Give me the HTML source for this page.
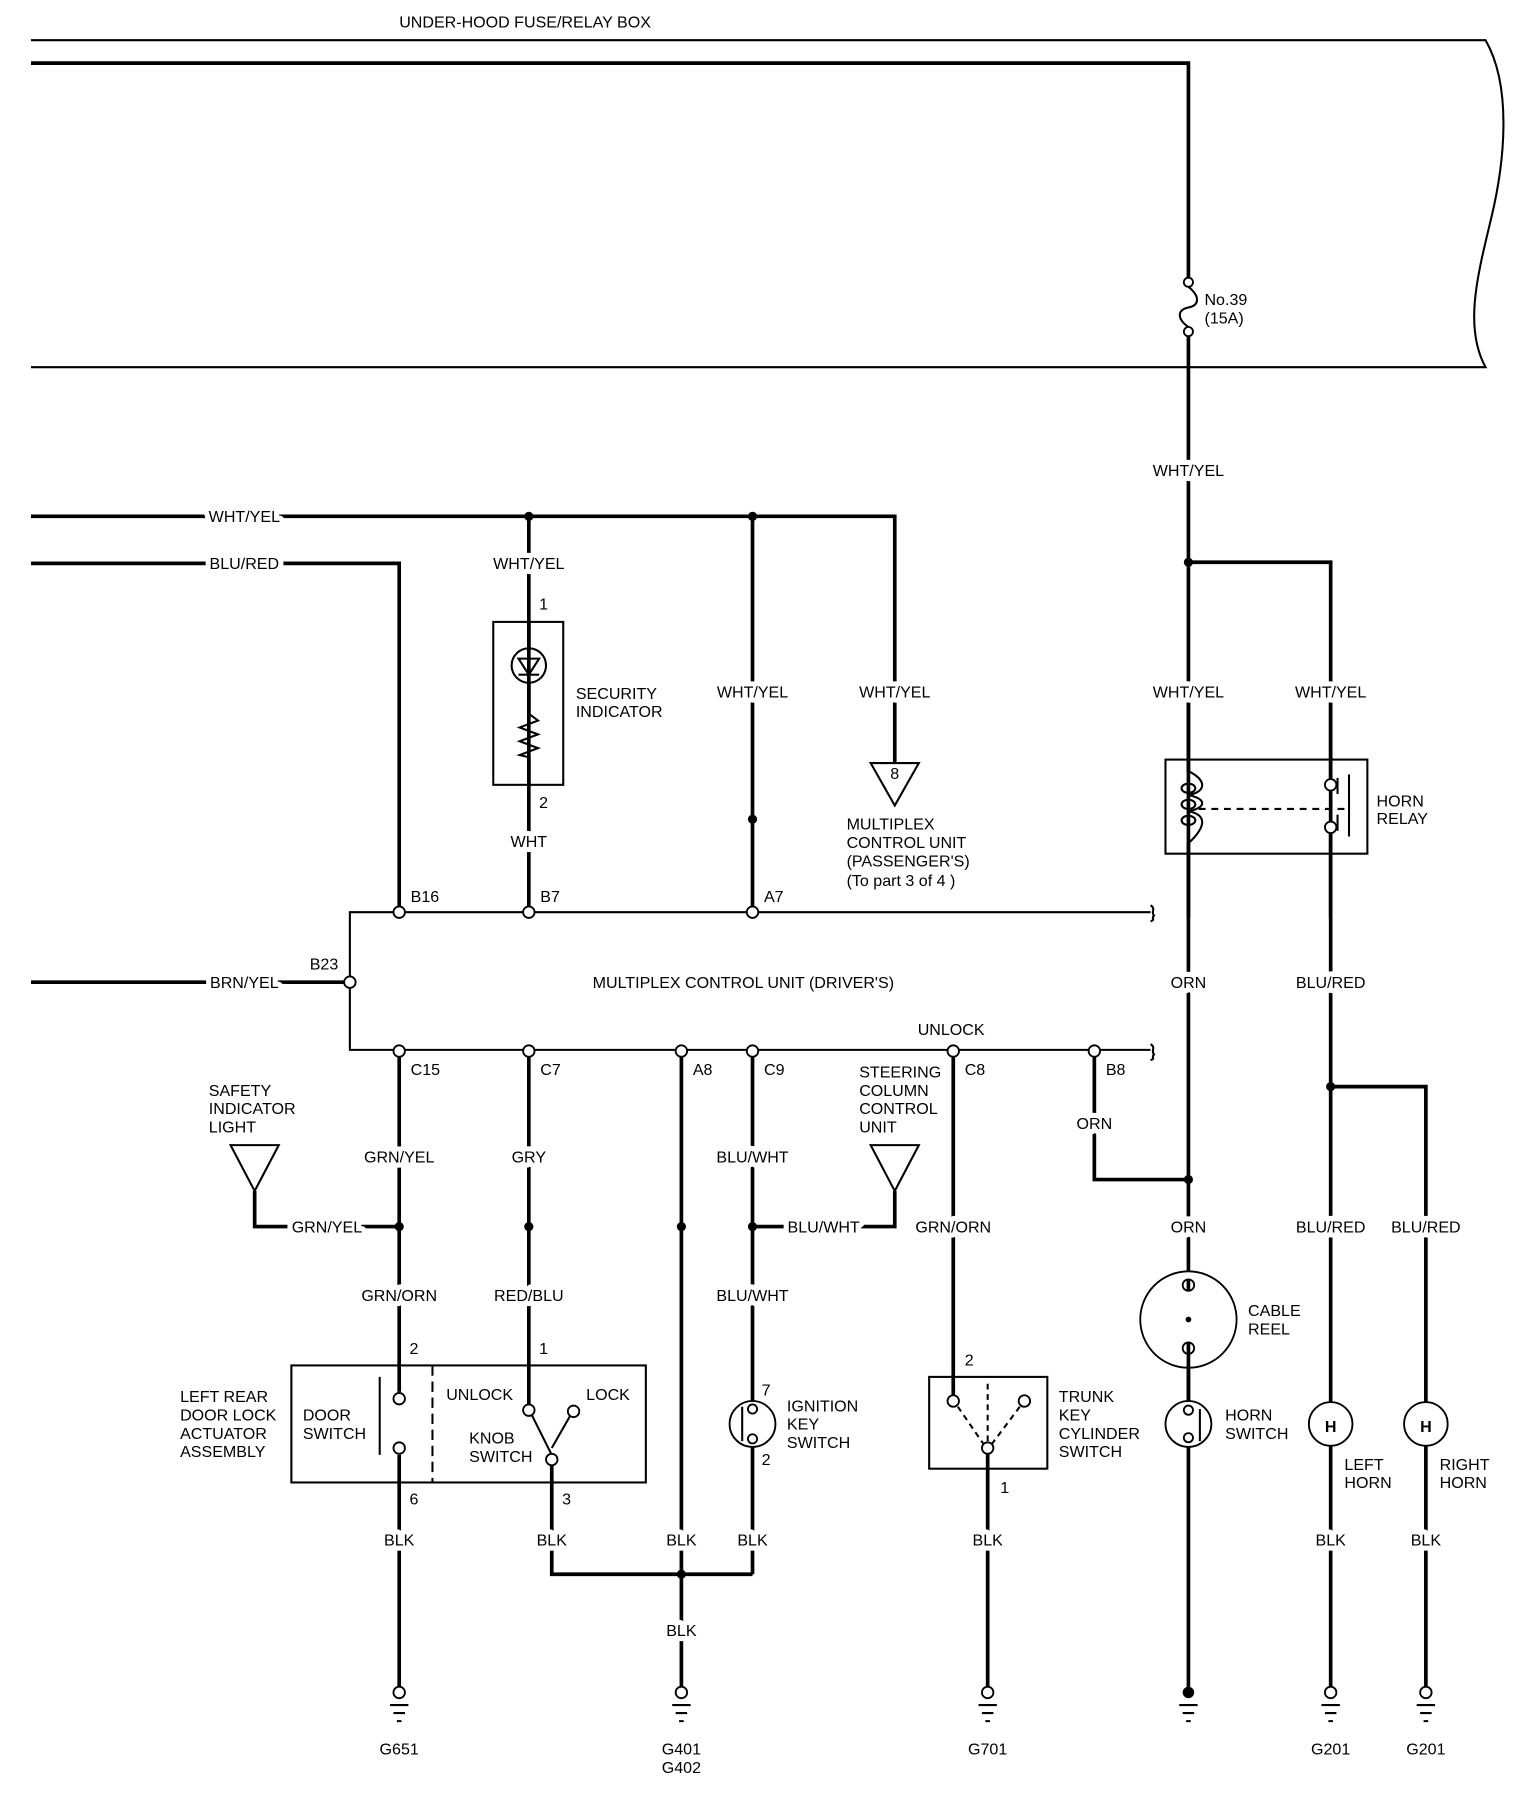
<!DOCTYPE html>
<html><head><meta charset="utf-8"><style>
html,body{margin:0;padding:0;background:#fff;}
svg{display:block;}
text{font-family:"Liberation Sans",sans-serif;font-size:14px;fill:#000;}
.l{paint-order:stroke;stroke:#fff;stroke-width:9px;stroke-linejoin:round;}
.w{stroke:#000;stroke-width:3.2;fill:none;}
.t{stroke:#000;stroke-width:1.8;fill:none;}
.oc{stroke:#000;stroke-width:1.6;fill:#fff;}
</style></head><body>
<svg width="1536" height="1798" viewBox="0 0 1339 1567" preserveAspectRatio="none" xmlns="http://www.w3.org/2000/svg">
<!-- fuse box -->
<text x="348" y="24">UNDER-HOOD FUSE/RELAY BOX</text>
<path class="t" d="M27,35 H1295 C1318,75 1312,140 1300,190 C1288,240 1276,285 1295,320 H27"/>
<path class="w" d="M27,55 H1036 V243 M1036,292 V1475"/>
<circle class="oc" cx="1036" cy="246" r="4"/><circle class="oc" cx="1036" cy="289" r="4"/>
<path class="t" d="M1036,250 C1046,258 1046,266 1036,268 C1026,270 1026,278 1036,285"/>
<text x="1050" y="266">No.39</text><text x="1050" y="282">(15A)</text>

<!-- right side -->
<path class="w" d="M1036,490 H1160 V1470 M1160,947 H1243 V1470 M954,916 V1028 H1036"/>
<circle cx="1036" cy="490" r="4"/><circle cx="1160" cy="947" r="4"/><circle cx="1036" cy="1028" r="4"/>
<rect class="t" x="1016" y="662" width="176" height="82" fill="#fff"/>
<path class="w" d="M1036,600 V672 M1036,735 V800 M1160,600 V680 M1160,724 V800"/>
<path class="t" d="M1036,672 C1052,680 1052,690 1036,693 C1052,696 1052,704 1036,707 C1052,710 1052,720 1036,735"/>
<ellipse class="t" cx="1036" cy="687" rx="6" ry="4"/><ellipse class="t" cx="1036" cy="701" rx="6" ry="4"/><ellipse class="t" cx="1036" cy="715" rx="6" ry="4"/>
<circle class="oc" cx="1160" cy="684" r="5"/><circle class="oc" cx="1160" cy="721" r="5"/>
<path class="t" d="M1166,678 V692 M1166,710 V724 M1176,675 V729"/>
<path class="t" d="M1045,705 H1172" stroke-dasharray="6,5"/>
<text x="1200" y="703">HORN</text><text x="1200" y="718">RELAY</text>
<circle cx="1036" cy="1150" r="42" class="oc"/>
<circle class="oc" cx="1036" cy="1120" r="5"/><circle class="oc" cx="1036" cy="1175" r="5"/><circle cx="1036" cy="1150" r="2.5"/>
<path class="w" d="M1036,1125 V1115 M1036,1170 V1225"/>
<text x="1088" y="1147">CABLE</text><text x="1088" y="1163">REEL</text>
<circle class="oc" cx="1036" cy="1241" r="20"/>
<circle class="oc" cx="1036" cy="1229" r="4"/><circle class="oc" cx="1036" cy="1253" r="4"/>
<path class="t" d="M1046,1228 V1256"/>
<text x="1068" y="1238">HORN</text><text x="1068" y="1254">SWITCH</text>
<circle class="oc" cx="1160" cy="1241" r="19"/><text x="1160" y="1248" text-anchor="middle" font-size="20" font-weight="bold">H</text>
<circle class="oc" cx="1243" cy="1241" r="19"/><text x="1243" y="1248" text-anchor="middle" font-size="20" font-weight="bold">H</text>
<text x="1172" y="1281">LEFT</text><text x="1172" y="1297">HORN</text>
<text x="1255" y="1281">RIGHT</text><text x="1255" y="1297">HORN</text>

<!-- left top wires -->
<path class="w" d="M27,450 H780 V665 M27,491 H348 V795 M27,856 H305 M461,450 V795 M656,450 V795"/>
<circle cx="461" cy="450" r="4"/><circle cx="656" cy="450" r="4"/><circle cx="656" cy="714" r="4"/>
<polygon class="t" points="759,665 801,665 780,702" fill="#fff"/><text x="780" y="679" text-anchor="middle" font-size="11">8</text>
<text x="738" y="723">MULTIPLEX</text><text x="738" y="739">CONTROL UNIT</text><text x="738" y="755">(PASSENGER'S)</text><text x="738" y="772">(To part 3 of 4 )</text>
<rect class="t" x="430" y="542" width="61" height="142" fill="#fff"/>
<path class="w" d="M461,542 V566 M461,594 V622 M461,660 V684"/>
<circle class="t" cx="461" cy="580" r="15"/>
<path class="t" d="M452,574 H470 L461,588 Z M452,588 H470 M461,566 V594"/>
<path class="t" d="M461,622 L469,628 L453,634 L469,640 L453,646 L469,652 L453,658 L461,660"/>
<text x="502" y="609">SECURITY</text><text x="502" y="625">INDICATOR</text>
<text x="470" y="531">1</text><text x="470" y="704">2</text>

<!-- MCU -->
<path class="t" d="M1003,795 H305 V915 H1003 M1003,789 C1008,792 1003,795 1006,798 C1003,801 1008,801 1003,803 M1003,910 C1008,913 1003,916 1006,919 C1003,922 1008,922 1003,924"/>
<text x="648" y="861" text-anchor="middle">MULTIPLEX CONTROL UNIT (DRIVER'S)</text>
<text x="270" y="845">B23</text><circle class="oc" cx="305" cy="856" r="5"/>
<text x="800" y="902">UNLOCK</text>

<!-- lower wires -->
<path class="w" d="M348,916 V1213 M348,1268 V1475 M461,916 V1224 M481,1276 V1372 H656 M594,916 V1475 M656,916 V1221 M656,1261 V1372 M831,916 V1216 M861,1266 V1475 M222,1038 V1069 H348 M780,1038 V1069 H656"/>
<circle cx="348" cy="1069" r="4"/><circle cx="461" cy="1069" r="4"/><circle cx="594" cy="1069" r="4"/><circle cx="656" cy="1069" r="4"/><circle cx="594" cy="1372" r="4"/>
<polygon class="t" points="201,998 243,998 222,1038" fill="#fff"/>
<polygon class="t" points="759,998 801,998 780,1038" fill="#fff"/>
<text x="182" y="955">SAFETY</text><text x="182" y="971">INDICATOR</text><text x="182" y="987">LIGHT</text>
<text x="749" y="939">STEERING</text><text x="749" y="955">COLUMN</text><text x="749" y="971">CONTROL</text><text x="749" y="987">UNIT</text>

<!-- door lock box -->
<rect class="t" x="254" y="1190" width="309" height="102" fill="none"/>
<path class="t" d="M377,1190 V1292" stroke-dasharray="9,5" stroke-width="2.5"/>
<path class="t" d="M331,1200 V1268" stroke-width="2.5"/>
<circle class="oc" cx="348" cy="1219" r="5"/><circle class="oc" cx="348" cy="1262" r="5"/>
<path class="t" d="M461,1228 L481,1268 M481,1262 L497,1234" />
<circle class="oc" cx="461" cy="1229" r="5"/><circle class="oc" cx="500" cy="1230" r="5"/><circle class="oc" cx="481" cy="1272" r="5"/>
<text x="264" y="1238">DOOR</text><text x="264" y="1254">SWITCH</text>
<text x="389" y="1220">UNLOCK</text><text x="511" y="1220">LOCK</text>
<text x="409" y="1258">KNOB</text><text x="409" y="1274">SWITCH</text>
<text x="157" y="1222">LEFT REAR</text><text x="157" y="1238">DOOR LOCK</text><text x="157" y="1254">ACTUATOR</text><text x="157" y="1270">ASSEMBLY</text>
<text x="357" y="1180">2</text><text x="470" y="1180">1</text><text x="357" y="1311">6</text><text x="490" y="1311">3</text>

<!-- ignition -->
<circle class="oc" cx="656" cy="1241" r="20"/>
<circle class="oc" cx="656" cy="1228" r="4"/><circle class="oc" cx="656" cy="1254" r="4"/><path class="t" d="M647,1226 V1256"/>
<text x="664" y="1216">7</text><text x="664" y="1277">2</text>
<text x="686" y="1230">IGNITION</text><text x="686" y="1246">KEY</text><text x="686" y="1262">SWITCH</text>

<!-- trunk -->
<rect class="t" x="810" y="1200" width="103" height="80" fill="none"/>
<path class="t" d="M835,1226 L857,1258 M889,1226 L865,1258 M861,1206 V1258" stroke-dasharray="5,4"/>
<circle class="oc" cx="831" cy="1221" r="5"/><circle class="oc" cx="893" cy="1221" r="5"/><circle class="oc" cx="861" cy="1262" r="5"/>
<text x="841" y="1190">2</text><text x="872" y="1301">1</text>
<text x="923" y="1222">TRUNK</text><text x="923" y="1238">KEY</text><text x="923" y="1254">CYLINDER</text><text x="923" y="1270">SWITCH</text>

<!-- connector circles -->
<g class="oc"><circle cx="348" cy="795" r="5"/><circle cx="461" cy="795" r="5"/><circle cx="656" cy="795" r="5"/>
<circle cx="348" cy="916" r="5"/><circle cx="461" cy="916" r="5"/><circle cx="594" cy="916" r="5"/><circle cx="656" cy="916" r="5"/><circle cx="831" cy="916" r="5"/><circle cx="954" cy="916" r="5"/></g>
<text x="358" y="786">B16</text><text x="471" y="786">B7</text><text x="666" y="786">A7</text>
<text x="358" y="937">C15</text><text x="471" y="937">C7</text><text x="604" y="937">A8</text><text x="666" y="937">C9</text><text x="841" y="937">C8</text><text x="964" y="937">B8</text>

<!-- grounds -->
<g>
<circle class="oc" cx="348" cy="1475" r="5"/><circle class="oc" cx="594" cy="1475" r="5"/><circle class="oc" cx="861" cy="1475" r="5"/><circle cx="1036" cy="1475" r="5"/><circle class="oc" cx="1160" cy="1475" r="5"/><circle class="oc" cx="1243" cy="1475" r="5"/>
<path class="t" d="M340,1486 H356 M343,1493 H353 M346,1500 H350 M586,1486 H602 M589,1493 H599 M592,1500 H596 M853,1486 H869 M856,1493 H866 M859,1500 H863 M1028,1486 H1044 M1031,1493 H1041 M1034,1500 H1038 M1152,1486 H1168 M1155,1493 H1165 M1158,1500 H1162 M1235,1486 H1251 M1238,1493 H1248 M1241,1500 H1245"/>
</g>
<g text-anchor="middle">
<text x="348" y="1529">G651</text><text x="594" y="1529">G401</text><text x="594" y="1545">G402</text><text x="861" y="1529">G701</text><text x="1160" y="1529">G201</text><text x="1243" y="1529">G201</text>
</g>

<!-- wire labels (masking) -->
<g text-anchor="middle" class="l">
<text x="1036" y="415">WHT/YEL</text><text x="1036" y="608">WHT/YEL</text><text x="1160" y="608">WHT/YEL</text>
<text x="1036" y="861">ORN</text><text x="1160" y="861">BLU/RED</text><text x="954" y="984">ORN</text>
<text x="1036" y="1074">ORN</text><text x="1160" y="1074">BLU/RED</text><text x="1243" y="1074">BLU/RED</text>
<text x="1160" y="1347">BLK</text><text x="1243" y="1347">BLK</text>
<text x="213" y="455">WHT/YEL</text><text x="213" y="496">BLU/RED</text><text x="213" y="861">BRN/YEL</text>
<text x="461" y="496">WHT/YEL</text><text x="461" y="738">WHT</text>
<text x="656" y="608">WHT/YEL</text><text x="780" y="608">WHT/YEL</text>
<text x="348" y="1013">GRN/YEL</text><text x="461" y="1013">GRY</text><text x="656" y="1013">BLU/WHT</text>
<text x="285" y="1074">GRN/YEL</text><text x="718" y="1074">BLU/WHT</text><text x="831" y="1074">GRN/ORN</text>
<text x="348" y="1134">GRN/ORN</text><text x="461" y="1134">RED/BLU</text><text x="656" y="1134">BLU/WHT</text>
<text x="348" y="1347">BLK</text><text x="481" y="1347">BLK</text><text x="594" y="1347">BLK</text><text x="656" y="1347">BLK</text><text x="861" y="1347">BLK</text>
<text x="594" y="1426">BLK</text>
</g>
</svg>
</body></html>
